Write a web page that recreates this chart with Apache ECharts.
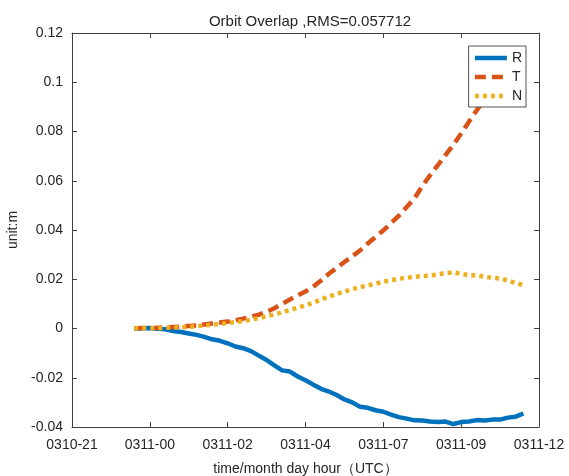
<!DOCTYPE html>
<html>
<head>
<meta charset="utf-8">
<script src="https://cdn.jsdelivr.net/npm/echarts@6/dist/echarts.min.js"></script>
<style>html,body{margin:0;padding:0;background:#fff}#c{width:569px;height:476px}</style>
</head>
<body>
<div id="c"></div>
<script>
var xTickLabels = ['0310-21','0311-00','0311-02','0311-04','0311-07','0311-09','0311-12'];
var timeIdx = [0.8,0.9,1.0,1.1,1.2,1.3,1.4,1.5,1.6,1.7,1.8,1.9,2.0,2.1,2.2,2.3,2.4,2.5,2.6,2.7,2.8,2.9,3.0,3.1,3.2,3.3,3.4,3.5,3.6,3.7,3.8,3.9,4.0,4.1,4.2,4.3,4.4,4.5,4.6,4.7,4.8,4.9,5.0,5.1,5.2,5.3,5.4,5.5,5.6,5.7,5.8];
var rVals = [0,0.0001,0.0002,-0.0001,-0.0003,-0.0010,-0.0014,-0.0020,-0.0026,-0.0034,-0.0044,-0.0050,-0.0060,-0.0073,-0.0080,-0.0092,-0.0110,-0.0128,-0.0150,-0.0170,-0.0175,-0.0195,-0.0210,-0.0228,-0.0245,-0.0256,-0.0270,-0.0288,-0.0300,-0.0318,-0.0322,-0.0332,-0.0338,-0.0350,-0.0360,-0.0366,-0.0373,-0.0374,-0.0378,-0.0380,-0.0378,-0.0388,-0.0380,-0.0378,-0.0372,-0.0374,-0.0370,-0.0370,-0.0362,-0.0358,-0.0345];
var tVals = [0,0.0002,0.0001,0.0003,0.0004,0.0006,0.0008,0.0010,0.0012,0.0016,0.0020,0.0024,0.0028,0.0033,0.0040,0.0048,0.0056,0.0068,0.0082,0.0100,0.0118,0.0135,0.0150,0.0170,0.0195,0.0222,0.0246,0.0270,0.0293,0.0317,0.0345,0.0372,0.0398,0.0428,0.0458,0.0493,0.0528,0.0578,0.0622,0.0663,0.0705,0.0746,0.0792,0.0840,0.0886,0.0930,0.0975,0.1015,0.1055,0.1090,0.1120];
var nVals = [0,0.0001,0.0002,0.0001,0.0003,0.0004,0.0005,0.0007,0.0009,0.0012,0.0015,0.0018,0.0022,0.0026,0.0030,0.0036,0.0042,0.0050,0.0057,0.0066,0.0075,0.0085,0.0094,0.0105,0.0118,0.0130,0.0140,0.0150,0.0160,0.0168,0.0175,0.0182,0.0190,0.0196,0.0202,0.0206,0.0210,0.0213,0.0215,0.0220,0.0224,0.0228,0.0222,0.0216,0.0216,0.0210,0.0206,0.0203,0.0195,0.0185,0.0176];

function pairs(xs, ys){ return xs.map(function(x,i){ return [x, ys[i]]; }); }

var axisColor = '#404040';
var textColor = '#262626';
var font = 'Liberation Sans, Arial, sans-serif';

var chart = echarts.init(document.getElementById('c'), null, {renderer:'canvas'});
chart.setOption({
  animation: false,
  backgroundColor: '#fff',
  title: {
    text: 'Orbit Overlap ,RMS=0.057712',
    left: 305, top: 9, textAlign: 'center',
    textStyle: {fontSize: 15, fontWeight: 'normal', color: textColor, fontFamily: font}
  },
  legend: {
    orient: 'vertical', right: 43, top: 46,
    backgroundColor: '#fff', borderColor: '#555', borderWidth: 1,
    padding: [5, 4, 4, 4], itemWidth: 32, itemHeight: 12, itemGap: 5,
    itemStyle: {opacity: 0, color: 'rgba(0,0,0,0)', borderWidth: 0},
    lineStyle: {width: 4.5},
    textStyle: {fontSize: 14, color: textColor, fontFamily: font},
    data: ['R','T','N']
  },
  grid: {left: 72, right: 30, top: 33, bottom: 49, outerBoundsMode: 'none', containLabel: false},
  xAxis: [{
    type: 'value', min: 0, max: 6, interval: 1,
    name: 'time/month day hour（UTC）', nameLocation: 'middle', nameGap: 35,
    nameTextStyle: {fontSize: 14, color: textColor, fontFamily: font},
    axisLine: {show: true, onZero: false, lineStyle: {color: axisColor, width: 1}},
    axisTick: {show: true, inside: true, length: 5, lineStyle: {color: axisColor}},
    axisLabel: {fontSize: 14, color: textColor, fontFamily: font, margin: 11,
      formatter: function(v){ return xTickLabels[Math.round(v)] || ''; }},
    splitLine: {show: false}
  },{
    type: 'value', min: 0, max: 6, interval: 1, position: 'top',
    axisLine: {show: true, onZero: false, lineStyle: {color: axisColor, width: 1}},
    axisTick: {show: true, inside: true, length: 5, lineStyle: {color: axisColor}},
    axisLabel: {show: false}, splitLine: {show: false}
  }],
  yAxis: [{
    type: 'value', min: -0.04, max: 0.12, interval: 0.02,
    name: 'unit:m', nameLocation: 'middle', nameGap: 40,
    nameTextStyle: {fontSize: 14, color: textColor, fontFamily: font},
    axisLine: {show: true, onZero: false, lineStyle: {color: axisColor, width: 1}},
    axisTick: {show: true, inside: true, length: 5, lineStyle: {color: axisColor}},
    axisLabel: {fontSize: 14, color: textColor, fontFamily: font, margin: 9,
      formatter: function(v){ return String(parseFloat(v.toFixed(2))); }},
    splitLine: {show: false}
  },{
    type: 'value', min: -0.04, max: 0.12, interval: 0.02, position: 'right',
    axisLine: {show: true, onZero: false, lineStyle: {color: axisColor, width: 1}},
    axisTick: {show: true, inside: true, length: 5, lineStyle: {color: axisColor}},
    axisLabel: {show: false}, splitLine: {show: false}
  }],
  series: [
    {name: 'R', type: 'line', data: pairs(timeIdx, rVals), symbol: 'none', showSymbol: false,
     lineStyle: {color: '#0072BD', width: 4.5, type: 'solid'}, itemStyle: {color: '#0072BD'}},
    {name: 'T', type: 'line', data: pairs(timeIdx, tVals), symbol: 'none', showSymbol: false,
     lineStyle: {color: '#D95319', width: 4.5, type: [11, 6], cap: 'butt'}, itemStyle: {color: '#D95319'}},
    {name: 'N', type: 'line', data: pairs(timeIdx, nVals), symbol: 'none', showSymbol: false,
     lineStyle: {color: '#EDB120', width: 4.5, type: [4, 4], cap: 'butt'}, itemStyle: {color: '#EDB120'}}
  ]
});
</script>
</body>
</html>
